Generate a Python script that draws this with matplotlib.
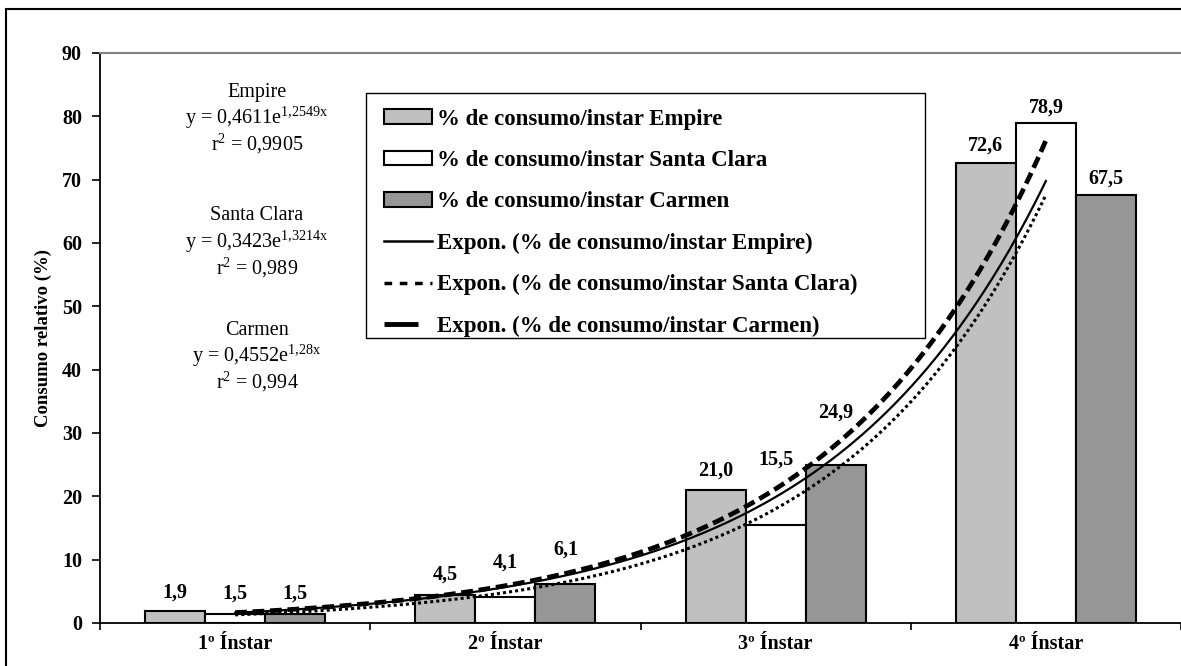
import numpy as np
import matplotlib
matplotlib.use("Agg")
import matplotlib.pyplot as plt
from matplotlib.lines import Line2D
from matplotlib.patches import Patch, Rectangle

plt.rcParams['font.family'] = ['Liberation Serif', 'DejaVu Serif']
plt.rcParams['mathtext.fontset'] = 'custom'
plt.rcParams['mathtext.rm'] = 'Liberation Serif'
plt.rcParams['mathtext.it'] = 'Liberation Serif'
plt.rcParams['mathtext.bf'] = 'Liberation Serif:bold'

# ---- data ----
categories = ["1º Ínstar", "2º Ínstar", "3º Ínstar", "4º Ínstar"]
empire = [1.9, 4.5, 21.0, 72.6]
santa_clara = [1.5, 4.1, 15.5, 78.9]
carmen = [1.5, 6.1, 24.9, 67.5]
value_labels_empire = ["1,9", "4,5", "21,0", "72,6"]
value_labels_sc = ["1,5", "4,1", "15,5", "78,9"]
value_labels_carmen = ["1,5", "6,1", "24,9", "67,5"]
# trendline coefficients (y = a * e^(b x)), as printed on the chart
trend_a = {"Empire": 0.4611, "Santa Clara": 0.3423, "Carmen": 0.4552}
trend_b = {"Empire": 1.2549, "Santa Clara": 1.3214, "Carmen": 1.28}
trend_r2 = {"Empire": "0,9905", "Santa Clara": "0,989", "Carmen": "0,994"}
trend_a_txt = {"Empire": "0,4611", "Santa Clara": "0,3423", "Carmen": "0,4552"}
trend_b_txt = {"Empire": "1,2549", "Santa Clara": "1,3214", "Carmen": "1,28"}
yticks = [0, 10, 20, 30, 40, 50, 60, 70, 80, 90]

# label offsets above bar tops (pixels)
off_empire = [18, 20, 19, 18]
off_sc = [20, 34, 65, 16]
off_carmen = [20, 35, 53, 17]

W, H = 1181, 666
fig = plt.figure(figsize=(W / 100, H / 100), dpi=100)
fig.patch.set_facecolor('white')
# outer frame
fig.add_artist(Rectangle((6 / W, -0.1), 1.2, (H - 9) / H + 0.1, transform=fig.transFigure,
                         fill=False, edgecolor='black', linewidth=1.5))

ax = fig.add_axes([100 / W, (H - 623) / H, 1081 / W, 570 / H])
x = np.arange(len(categories))
bw = 60 / 270

bar_style = dict(edgecolor='black', linewidth=1.5, zorder=2)
b1 = ax.bar(x - bw, empire, bw, color='#c0c0c0', **bar_style)
b2 = ax.bar(x, santa_clara, bw, color='white', **bar_style)
b3 = ax.bar(x + bw, carmen, bw, color='#969696', **bar_style)

for bars, labs, offs in [(b1, value_labels_empire, off_empire),
                         (b2, value_labels_sc, off_sc),
                         (b3, value_labels_carmen, off_carmen)]:
    for rect, lab, off in zip(bars, labs, offs):
        ax.annotate(lab, (rect.get_x() + rect.get_width() / 2, rect.get_height()),
                    xytext=(0, off), textcoords='offset pixels',
                    ha='center', va='center', fontsize=14.5, fontweight='bold', zorder=5)

# trendlines
xt = np.linspace(1, 4, 200)
ln_e, = ax.plot(xt - 1, trend_a["Empire"] * np.exp(trend_b["Empire"] * xt),
                color='black', lw=1.6, zorder=4)
ln_s, = ax.plot(xt - 1, trend_a["Santa Clara"] * np.exp(trend_b["Santa Clara"] * xt),
                color='black', lw=2.2, linestyle=(0, (1, 1)), zorder=4)
ln_c, = ax.plot(xt - 1, trend_a["Carmen"] * np.exp(trend_b["Carmen"] * xt),
                color='black', lw=3.4, linestyle=(0, (2.5, 1.2)), zorder=4)

ax.set_xlim(-0.5, 3.5)
ax.set_ylim(0, 90)
ax.set_yticks(yticks)
ax.set_yticklabels([str(v) for v in yticks], fontsize=14.5, fontweight='bold')
ax.set_xticks([-0.5, 0.5, 1.5, 2.5, 3.5])
ax.set_xticklabels([])
ax.set_xticks(x, minor=True)
ax.set_xticklabels(categories, minor=True, fontsize=14.5, fontweight='bold')
ax.tick_params(axis='x', which='minor', length=0, pad=8)
ax.tick_params(axis='x', which='major', length=5, width=1.2, direction='out')
ax.tick_params(axis='y', length=6, width=1.2, direction='out', pad=7)
ax.set_ylabel("Consumo relativo (%)", fontsize=13.5, fontweight='bold', labelpad=7)

for s in ['left', 'bottom']:
    ax.spines[s].set_linewidth(1.3)
    ax.spines[s].set_color('black')
ax.spines['top'].set_color('#808080')
ax.spines['top'].set_linewidth(1.5)
ax.spines['right'].set_visible(False)

# equations
eq_x = 257
eqs = [("Empire", 92), ("Santa Clara", 216), ("Carmen", 330)]
for name, ytop in eqs:
    fig.text(eq_x / W, 1 - ytop / H, name, ha='center', va='center', fontsize=14.5)
    fig.text(eq_x / W, 1 - (ytop + 26) / H,
             "y = " + trend_a_txt[name] + "e$^{\\mathrm{" + trend_b_txt[name].replace(",", "{,}") + "x}}$",
             ha='center', va='center', fontsize=14.5)
    fig.text(eq_x / W, 1 - (ytop + 52) / H, "r$^{\\mathrm{2}}$ = " + trend_r2[name],
             ha='center', va='center', fontsize=14.5)

# legend
handles = [
    Patch(facecolor='#c0c0c0', edgecolor='black', linewidth=1.5),
    Patch(facecolor='white', edgecolor='black', linewidth=1.5),
    Patch(facecolor='#969696', edgecolor='black', linewidth=1.5),
    Line2D([], [], color='black', lw=1.8),
    Line2D([], [], color='black', lw=2.5, linestyle=(0, (2.2, 2.2))),
    Line2D([], [], color='black', lw=3.5, linestyle=(0, (7, 5))),
]
labels = ["% de consumo/instar Empire",
          "% de consumo/instar Santa Clara",
          "% de consumo/instar Carmen",
          "Expon. (% de consumo/instar Empire)",
          "Expon. (% de consumo/instar Santa Clara)",
          "Expon. (% de consumo/instar Carmen)"]
fig.add_artist(Rectangle((366 / W, 1 - 338 / H), (925 - 366) / W, (338 - 93) / H,
                         transform=fig.transFigure, facecolor='white', edgecolor='black',
                         linewidth=1.0, zorder=3))
leg = fig.legend(handles, labels, loc='upper left', bbox_to_anchor=(370 / W, 1 - 95 / H),
                 prop={'weight': 'bold', 'size': 16.5}, frameon=False,
                 handlelength=2.1, handleheight=0.62, handletextpad=0.22,
                 labelspacing=0.885, borderpad=0.6, borderaxespad=0)
leg.set_zorder(4)

fig.savefig("out.png", dpi=100)
